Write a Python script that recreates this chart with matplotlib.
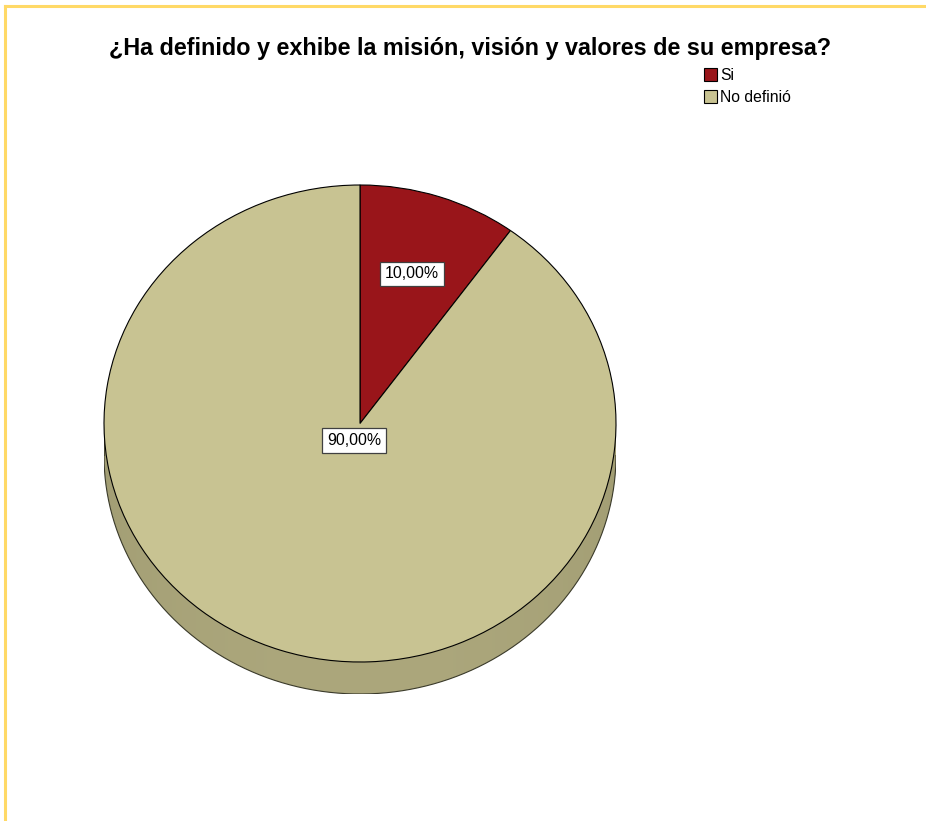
import numpy as np
import matplotlib.pyplot as plt
from matplotlib.patches import Polygon
from matplotlib.lines import Line2D

# Survey answers
categories = ["Si", "No definió"]
shares = [10.0, 90.0]
pct_labels = ["10,00%", "90,00%"]
title = "¿Ha definido y exhibe la misión, visión y valores de su empresa?"

colors = ["#99151a", "#c8c392"]
label_dist = [0.66, 0.075]

W, H = 926, 821
fig = plt.figure(figsize=(W / 100, H / 100), dpi=100)
plt.rcParams["font.family"] = ["Liberation Sans", "DejaVu Sans"]

# pie region in pixels: top face 104..616 x 185..662, side down to 694
px_left, px_right, px_top, px_face_bottom, px_bottom = 104, 616, 185, 662, 694
ry = (px_face_bottom - px_top) / 2
depth = (px_bottom - px_face_bottom) / ry

ax = fig.add_axes([px_left / W, (H - px_bottom) / H,
                   (px_right - px_left) / W, (px_bottom - px_top) / H])

wedges, _ = ax.pie(shares, colors=colors, startangle=90, counterclock=False,
                   radius=1, center=(0, 0),
                   wedgeprops=dict(edgecolor="black", linewidth=0.8), frame=False)
for w in wedges:
    w.set_zorder(3)

# side wall of the disc, with a soft horizontal shading
t = np.linspace(np.pi, 2 * np.pi, 200)
side_pts = np.column_stack([np.cos(t), np.sin(t) - depth])
side_pts = np.vstack([[-1, 0], side_pts, [1, 0]])
side = Polygon(side_pts, closed=True, facecolor="none", edgecolor="none")
ax.add_patch(side)
xs = np.linspace(-1, 1, 300)
shade = 0.5 + 0.5 * np.cos(xs * np.pi / 2) ** 0.6
edge_c = np.array([152, 148, 108]) / 255
mid_c = np.array([172, 167, 124]) / 255
grad = edge_c[None, :] + (mid_c - edge_c)[None, :] * shade[:, None]
img = ax.imshow(grad[None, :, :], extent=(-1, 1, -1 - depth, 0), aspect="auto",
                zorder=1, interpolation="bilinear")
img.set_clip_path(side)
ax.plot(np.cos(t), np.sin(t) - depth, color="#3a3a2a", lw=0.8, zorder=2)
ax.plot([-1, -1], [0, -depth], color="#3a3a2a", lw=0.6, zorder=2)
ax.plot([1, 1], [0, -depth], color="#3a3a2a", lw=0.6, zorder=2)

# percentage labels
for w, lab, r in zip(wedges, pct_labels, label_dist):
    mid = np.deg2rad((w.theta1 + w.theta2) / 2)
    ax.text(r * np.cos(mid), r * np.sin(mid), lab, ha="center", va="center",
            fontsize=11.4, color="black", zorder=5,
            bbox=dict(boxstyle="square,pad=0.3", fc="white", ec="#404040", lw=0.9))

ax.set_xlim(-1, 1)
ax.set_ylim(-1 - depth, 1)
ax.set_aspect("auto")
ax.axis("off")

fig.text(470 / W, 1 - 55 / H, title, ha="center", va="baseline",
         fontsize=16.8, fontweight="bold")

fig.legend(wedges, categories, loc="upper left",
           bbox_to_anchor=(704 / W, 1 - 68 / H), frameon=False,
           fontsize=11.3, handlelength=0.85, handleheight=0.85,
           handletextpad=0.2, labelspacing=0.45, borderpad=0, borderaxespad=0)

# yellow frame on top and left
fig.add_artist(Line2D([5 / W, 1], [1 - 6 / H, 1 - 6 / H], color="#ffd966", lw=2.2))
fig.add_artist(Line2D([5 / W, 5 / W], [0, 1 - 6 / H], color="#ffd966", lw=2.2))

fig.savefig("out.png", dpi=100)
